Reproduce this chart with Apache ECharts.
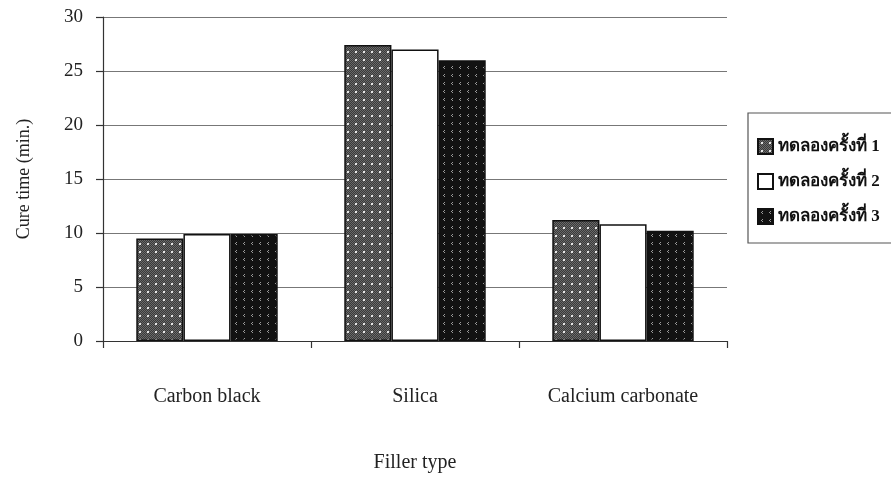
<!DOCTYPE html>
<html>
<head>
<meta charset="utf-8">
<script src="https://cdn.jsdelivr.net/npm/echarts@6/dist/echarts.min.js"></script>
<style>
  html, body { margin: 0; padding: 0; background: #fff; }
  #chart { width: 891px; height: 478px; }
</style>
</head>
<body>
<div id="chart"></div>
<script>
// Filler types on the category axis
const categories = ['Carbon black', 'Silica', 'Calcium carbonate'];
// Trial names (Thai) and cure times in minutes
const seriesNames = ['ทดลองครั้งที่ 1', 'ทดลองครั้งที่ 2', 'ทดลองครั้งที่ 3'];
const trial1 = [9.5, 27.4, 11.2];
const trial2 = [9.9, 27.0, 10.8];
const trial3 = [9.9, 26.0, 10.2];
const yTicks = [0, 5, 10, 15, 20, 25, 30];

// Dotted dark grey fill
function dotPattern() {
  const c = document.createElement('canvas');
  c.width = 8; c.height = 8;
  const g = c.getContext('2d');
  g.fillStyle = '#3a3a3a';
  g.fillRect(0, 0, 8, 8);
  g.fillStyle = '#6a6a6a';
  for (let y = 0; y < 8; y++) for (let x = 0; x < 8; x++) if ((x + y) % 2 === 0) g.fillRect(x, y, 1, 1);
  g.fillStyle = '#e6e6e6';
  g.fillRect(3, 3, 2, 2);
  return c;
}
// Black fill with small light chevrons
function chevronPattern() {
  const c = document.createElement('canvas');
  c.width = 8; c.height = 8;
  const g = c.getContext('2d');
  g.fillStyle = '#121212';
  g.fillRect(0, 0, 8, 8);
  g.fillStyle = '#9a9a9a';
  g.fillRect(4, 2, 1, 1);
  g.fillRect(3, 3, 1, 1);
  g.fillRect(4, 4, 1, 1);
  return c;
}

const fills = [
  { image: dotPattern(), repeat: 'repeat' },
  '#ffffff',
  { image: chevronPattern(), repeat: 'repeat' }
];
const values = [trial1, trial2, trial3];

const serif = '"Liberation Serif", "DejaVu Serif", serif';

const chart = echarts.init(document.getElementById('chart'), null, { renderer: 'canvas' });
chart.setOption({
  animation: false,
  backgroundColor: '#ffffff',
  graphic: [{
    type: 'rect',
    shape: { x: 748, y: 113, width: 150, height: 130 },
    style: { fill: 'none', stroke: '#555', lineWidth: 1.2 },
    z: 0
  }],
  legend: {
    orient: 'vertical',
    left: 757,
    top: 138,
    padding: 0,
    itemWidth: 15,
    itemHeight: 15,
    itemGap: 18,
    icon: 'rect',
    textStyle: { fontFamily: serif, fontSize: 17, fontWeight: 'bold', color: '#111' },
    data: seriesNames
  },
  grid: { left: 103, right: 164, top: 17, bottom: 136 },
  xAxis: {
    type: 'category',
    data: categories,
    name: 'Filler type',
    nameLocation: 'middle',
    nameGap: 112,
    nameTextStyle: { fontFamily: serif, fontSize: 20, color: '#222' },
    axisLine: { lineStyle: { color: '#333', width: 1.2 } },
    axisTick: { show: true, length: 7, lineStyle: { color: '#333', width: 1.2 } },
    axisLabel: { fontFamily: serif, fontSize: 20, color: '#222', margin: 46 }
  },
  yAxis: {
    type: 'value',
    min: yTicks[0],
    max: yTicks[yTicks.length - 1],
    interval: 5,
    name: 'Cure time (min.)',
    nameLocation: 'middle',
    nameGap: 70,
    nameTextStyle: { fontFamily: serif, fontSize: 18, color: '#222' },
    axisLine: { show: true, lineStyle: { color: '#333', width: 1.2 } },
    axisTick: { show: true, length: 7, lineStyle: { color: '#333', width: 1.2 } },
    axisLabel: { fontFamily: serif, fontSize: 19, color: '#222', margin: 20 },
    splitLine: { lineStyle: { color: '#777', width: 1 } }
  },
  series: seriesNames.map((n, i) => ({
    name: n,
    type: 'bar',
    data: values[i],
    barGap: '0%',
    barCategoryGap: '32%',
    itemStyle: { color: fills[i], borderColor: '#111', borderWidth: 1.5 }
  }))
});
</script>
</body>
</html>
